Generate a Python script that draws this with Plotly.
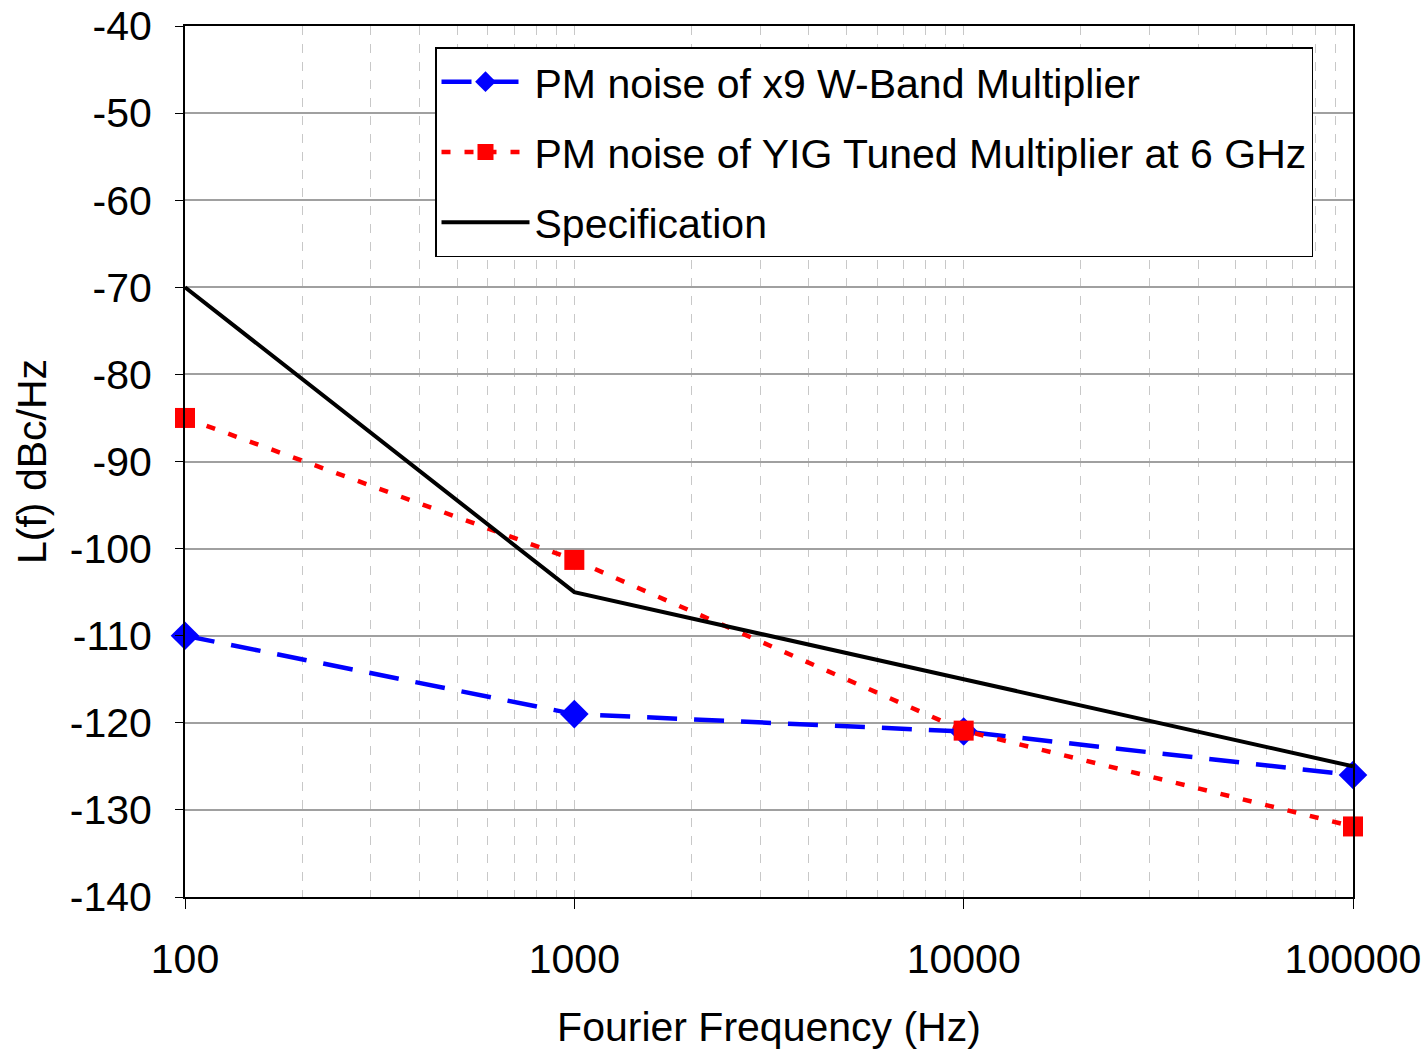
import plotly.graph_objects as go

freq = [100, 1000, 10000, 100000]
wband = [-110, -119, -121, -126]
yig = [-85, -101.3, -120.9, -131.9]
spec = [-70, -105, -115, -125]

names = ["PM noise of x9 W-Band Multiplier",
         "PM noise of YIG Tuned Multiplier at 6 GHz",
         "Specification"]

x_ticks = [100, 1000, 10000, 100000]
x_labels = ["100", "1000", "10000", "100000"]
y_ticks = [-140, -130, -120, -110, -100, -90, -80, -70, -60, -50, -40]
y_labels = ["-140", "-130", "-120", "-110", "-100", "-90", "-80", "-70", "-60", "-50", "-40"]
x_minor = [m * d for d in (100, 1000, 10000) for m in range(2, 10)]

FONT = "Liberation Sans, Arial, sans-serif"
FS = 41

fig = go.Figure()
fig.add_trace(go.Scatter(x=freq, y=wband, name=names[0], mode="lines+markers",
                         legendgroup="a", cliponaxis=False,
                         line=dict(color="#0000ff", width=4.5, dash="30px,17px"),
                         marker=dict(symbol="diamond", size=22, color="#0000ff")))
fig.add_trace(go.Scatter(x=freq, y=yig, name=names[1], mode="lines+markers",
                         legendgroup="b", cliponaxis=False,
                         line=dict(color="#ff0000", width=4.5, dash="9px,14px"),
                         marker=dict(symbol="square", size=20, color="#ff0000")))
fig.add_trace(go.Scatter(x=freq, y=spec, name=names[2], mode="lines",
                         legendgroup="c", cliponaxis=False,
                         line=dict(color="#000000", width=4)))

fig.update_layout(
    width=1426, height=1050,
    margin=dict(l=185, r=73, t=26, b=153),
    paper_bgcolor="white", plot_bgcolor="white",
    font=dict(family=FONT, size=FS, color="black"),
    showlegend=True,
    legend=dict(x=(435 - 185) / 1168, y=(897 - 47) / 871, xanchor="left", yanchor="top",
                bordercolor="black", borderwidth=1.5, bgcolor="white",
                font=dict(size=FS), tracegroupgap=14, itemwidth=88,
                traceorder="grouped"),
    xaxis=dict(type="log", range=[2, 5], automargin=False,
               tickvals=x_ticks, ticktext=x_labels,
               showgrid=True, gridcolor="#c8c8c8", griddash="dash", gridwidth=1,
               minor=dict(tickvals=x_minor, showgrid=True, gridcolor="#c8c8c8",
                          griddash="dash", gridwidth=1, ticks=""),
               ticks="outside", ticklen=10, tickcolor="black",
               ticklabelstandoff=15, ticklabeloverflow="allow",
               showline=True, linecolor="black", linewidth=2, mirror=True,
               zeroline=False,
               tickfont=dict(size=FS),
               title=dict(text="Fourier Frequency (Hz)", font=dict(size=FS), standoff=36)),
    yaxis=dict(range=[-140, -40], automargin=False,
               tickvals=y_ticks, ticktext=y_labels,
               showgrid=True, gridcolor="#a0a0a0", gridwidth=1.5,
               ticks="outside", ticklen=8, tickcolor="black",
               ticklabelstandoff=15, ticklabeloverflow="allow",
               showline=True, linecolor="black", linewidth=2, mirror=True,
               zeroline=False,
               tickfont=dict(size=FS),
               title=dict(text="L(f) dBc/Hz", font=dict(size=FS), standoff=10)),
)

fig.write_html("out.html", config={"displayModeBar": False},
               post_script="document.body.style.margin='0';document.body.style.overflow='hidden';")
